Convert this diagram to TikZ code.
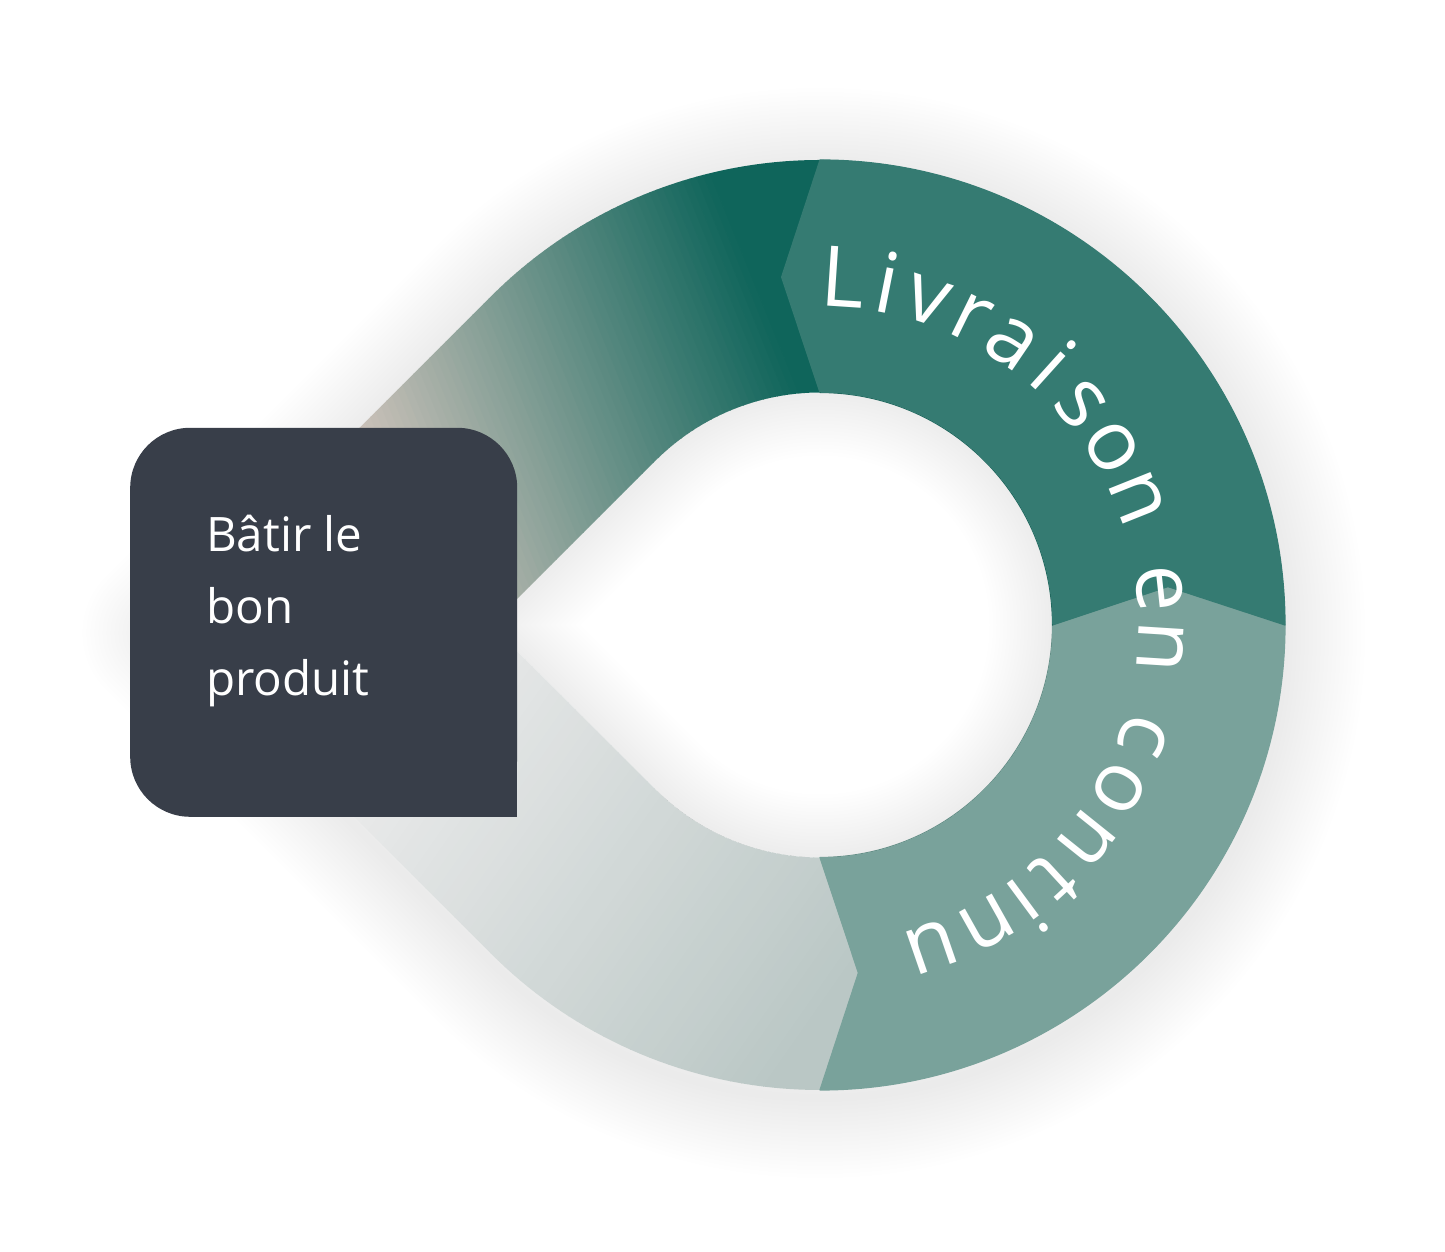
\documentclass[tikz,border=0pt]{standalone}
\usepackage{fontspec}
\setmainfont{Open Sans}
\definecolor{tealD}{HTML}{357B72}
\definecolor{tealL}{HTML}{79A29B}
\definecolor{ulDark}{HTML}{0F655B}
\definecolor{ulLight}{HTML}{CBC1B9}
\definecolor{loDark}{HTML}{BAC7C5}
\definecolor{loLight}{HTML}{E8E9E9}
\definecolor{boxc}{HTML}{383E49}
\begin{document}
\begin{tikzpicture}[x=1pt,y=1pt,
  ringtxt/.style={text=white, font=\fontsize{84}{100}\selectfont, inner sep=0pt},
  boxtxt/.style={text=white, font=\fontsize{47.5}{72}\selectfont, inner sep=0pt},
  segline/.style={line width=1.2pt, line join=round}]
\useasboundingbox (0,0) rectangle (1445,1252);
\fill[white] (0,0) rectangle (1445,1252);
\def\Ro{465}\def\Ri{232.5}\def\Rt{350}\def\dt{6.3}
\begin{scope}[shift={(820,627)}]
  % outer soft shadow
  \foreach \k in {1,...,20}{
    \pgfmathsetmacro\lw{\k*8}
    \draw[line width=\lw pt, black, opacity=0.0035, line join=round, yshift=-8pt]
      (-657.6,0) -- (135:\Ro) arc[start angle=135,end angle=-135,radius=\Ro] -- cycle;
  }
  % lower-left segment (light gradient)
  \begin{scope}
    \clip (-90:\Ro) arc[start angle=270,end angle=225,radius=\Ro] -- (-657.6,0) -- (-328.8,0)
      -- (225:\Ri) arc[start angle=225,end angle=270,radius=\Ri] -- (-90+\dt:\Rt) -- cycle;
    \begin{scope}[rotate=-35]
      \fill[loLight] (-1600,-1600) rectangle (-271,1600);
      \foreach \i in {0,...,49}{
        \pgfmathsetmacro\p{(\i+0.5)*2}
        \pgfmathsetmacro\xa{-272+\i*10}
        \pgfmathsetmacro\xb{\xa+10.6}
        \fill[loDark!\p!loLight] (\xa,-1600) rectangle (\xb,1600);
      }
      \fill[loDark] (228,-1600) rectangle (1600,1600);
    \end{scope}
  \end{scope}
  % upper-left segment (dark teal to beige gradient)
  \begin{scope}
    \clip (90:\Ro) arc[start angle=90,end angle=135,radius=\Ro] -- (-657.6,0) -- (-328.8,0)
      -- (135:\Ri) arc[start angle=135,end angle=90,radius=\Ri] -- (90+\dt:\Rt) -- cycle;
    \begin{scope}[rotate=22]
      \fill[ulLight] (-1600,-1600) rectangle (-352,1600);
      \foreach \i in {0,...,59}{
        \pgfmathsetmacro\p{(\i+0.5)*100/60}
        \pgfmathsetmacro\xa{-353+\i*7}
        \pgfmathsetmacro\xb{\xa+7.6}
        \fill[ulDark!\p!ulLight] (\xa,-1600) rectangle (\xb,1600);
      }
      \fill[ulDark] (67,-1600) rectangle (1600,1600);
    \end{scope}
  \end{scope}
  % light teal segment (lower right)
  \filldraw[fill=tealL, draw=tealL, segline]
    (-90:\Ro) arc[start angle=-90,end angle=0,radius=\Ro] -- (\dt:\Rt)
    -- (0:\Ri) arc[start angle=0,end angle=-90,radius=\Ri] -- (-90+\dt:\Rt) -- cycle;
  % dark teal segment (upper right)
  \filldraw[fill=tealD, draw=tealD, segline]
    (0:\Ro) arc[start angle=0,end angle=90,radius=\Ro] -- (90+\dt:\Rt)
    -- (90:\Ri) arc[start angle=90,end angle=0,radius=\Ri] -- (\dt:\Rt) -- cycle;
  % inner shadow of the hole
  \begin{scope}
    \clip (-328.8,0) -- (135:\Ri) arc[start angle=135,end angle=-135,radius=\Ri] -- cycle;
    \foreach \k in {1,...,18}{
      \pgfmathsetmacro\lw{\k*7}
      \draw[line width=\lw pt, black, opacity=0.005, line join=round]
        (-328.8,0) -- (135:\Ri) arc[start angle=135,end angle=-135,radius=\Ri] -- cycle;
    }
  \end{scope}
  % curved label
  \foreach \ch/\ang [count=\k] in {L/86.2,i/78.8,v/71.7,r/63.8,a/55.8,i/48.0,s/40.2,o/31.4,n/21.8,e/6.2,n/-3.6,c/-19.0,o/-28.7,n/-38.7,t/-47.3,i/-53.5,n/-60.7,u/-70.9}{
    \node[ringtxt, anchor=base, rotate=\ang-90] (c\k) at (\ang:319) {\ch};
  }
\end{scope}
% box
\node[fill=boxc, rounded corners=60pt, minimum width=387pt, minimum height=389pt,
      inner sep=0pt, anchor=south west] (box) at (130,435) {};
\fill[boxc] (box.south east) rectangle ++(-80,80);
\node[boxtxt, anchor=base west] (t1) at (206,700) {Bâtir le};
\node[boxtxt, anchor=base west] (t2) at (206,628) {bon};
\node[boxtxt, anchor=base west] (t3) at (206,556) {produit};
\end{tikzpicture}
\end{document}
